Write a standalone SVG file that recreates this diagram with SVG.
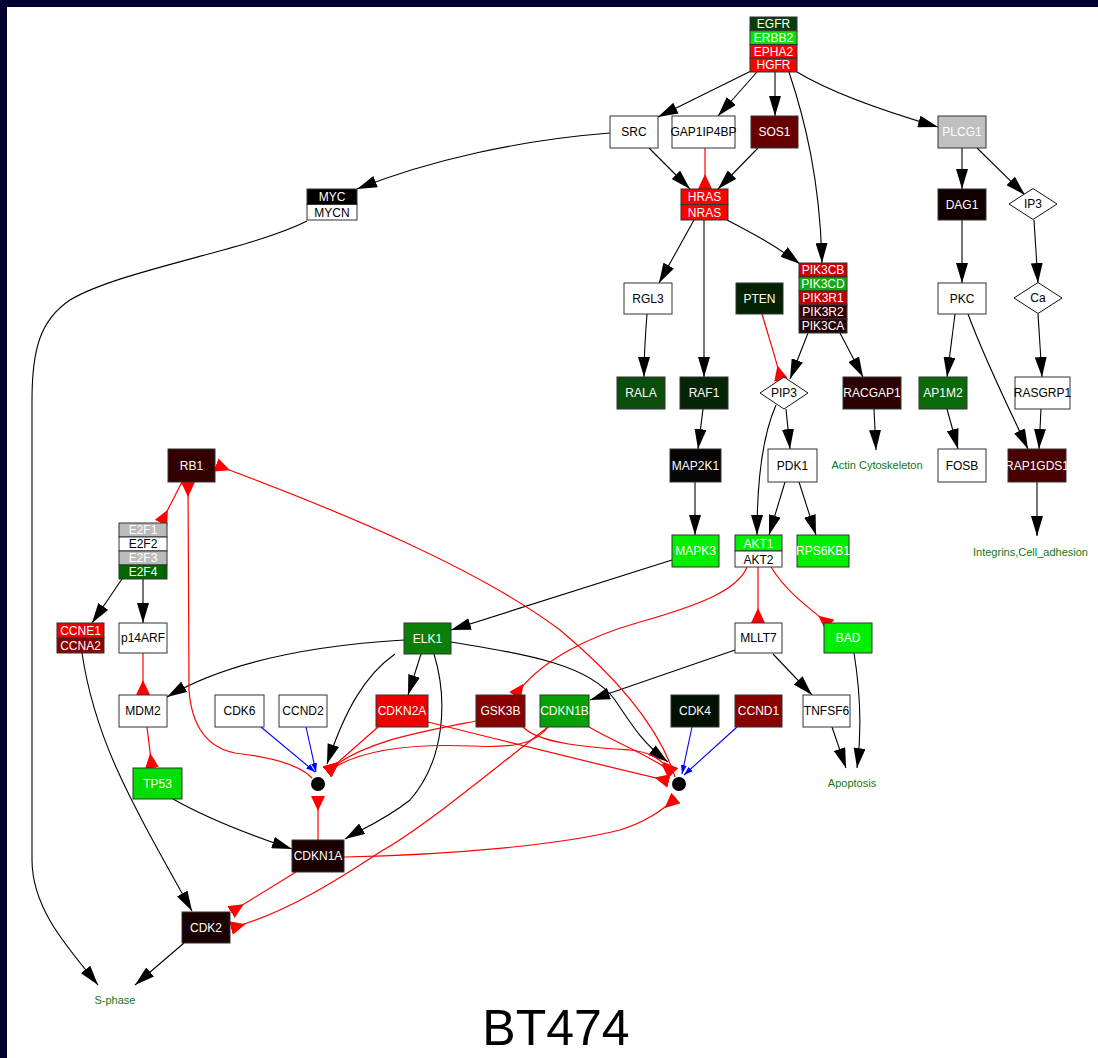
<svg xmlns="http://www.w3.org/2000/svg" width="1098" height="1058" viewBox="0 0 1098 1058">
<style>
text{font-family:"Liberation Sans",Arial,sans-serif;font-size:12px;text-anchor:middle}
.nd rect{stroke:#333;stroke-width:1}
.nd polygon{fill:#fff;stroke:#111;stroke-width:1}
.wt{fill:#fff}
.bt{fill:#000}
.lbl{fill:#117711;font-size:11px}
.e path{fill:none}
.k{stroke:#000;stroke-width:1.1;marker-end:url(#ak)}
.r{stroke:#ff0000;stroke-width:1.2;marker-end:url(#ar)}
.b{stroke:#0000ff;stroke-width:1.1;marker-end:url(#ab)}
</style>
<defs>
<marker id="ak" viewBox="0 0 20 12" markerWidth="20" markerHeight="12" refX="20" refY="6" orient="auto" markerUnits="userSpaceOnUse"><path d="M0,0 L20,6 L0,12 z" fill="#000"/></marker>
<marker id="ar" viewBox="0 0 15 14" markerWidth="15" markerHeight="14" refX="15" refY="7" orient="auto" markerUnits="userSpaceOnUse"><path d="M15,0 L15,14 L0,7 z" fill="#ff0000"/></marker>
<marker id="ab" viewBox="0 0 9 6" markerWidth="9" markerHeight="6" refX="9" refY="3" orient="auto" markerUnits="userSpaceOnUse"><path d="M0,0 L9,3 L0,6 z" fill="#0000ff"/></marker>
</defs>
<rect x="0" y="0" width="1098" height="1058" fill="#000033"/>
<rect x="7" y="7" width="1091" height="1051" fill="#ffffff"/>

<g id="edges" class="e">
<path class="k" d="M751,71 L658,117"/>
<path class="k" d="M757,72 L718,116"/>
<path class="k" d="M775,72 L775,116"/>
<path class="k" d="M789,72 C805,120 820,180 822,263"/>
<path class="k" d="M797,72 C830,92 880,110 938,127"/>
<path class="k" d="M610,133 C520,140 430,160 357,189"/>
<path class="k" d="M649,148 L690,189"/>
<path class="r" d="M705,148 L705,189"/>
<path class="k" d="M758,148 L718,189"/>
<path class="k" d="M694,220 L659,283"/>
<path class="k" d="M704,220 L704,377"/>
<path class="k" d="M727,220 C750,232 775,245 800,264"/>
<path class="k" d="M962,148 L962,189"/>
<path class="k" d="M977,148 L1025,195"/>
<path class="k" d="M962,220 L962,283"/>
<path class="k" d="M1034,220 L1038,283"/>
<path class="k" d="M647,314 C645,340 644,355 644,377"/>
<path class="r" d="M762,314 C768,335 775,355 781,380"/>
<path class="k" d="M808,333 L790,379"/>
<path class="k" d="M840,333 L863,377"/>
<path class="k" d="M955,314 L947,377"/>
<path class="k" d="M968,314 C985,360 1005,400 1028,449"/>
<path class="k" d="M1038,314 L1042,377"/>
<path class="k" d="M874,409 L876,450"/>
<path class="k" d="M947,409 L958,449"/>
<path class="k" d="M1041,409 L1039,449"/>
<path class="k" d="M1037,482 L1037,536"/>
<path class="k" d="M703,409 L698,449"/>
<path class="k" d="M695,482 L695,535"/>
<path class="k" d="M786,409 L790,449"/>
<path class="k" d="M776,405 C765,430 757,470 757,535"/>
<path class="k" d="M785,482 L769,535"/>
<path class="k" d="M799,482 L816,535"/>
<path class="k" d="M307,221 C250,250 120,270 70,300 C40,320 32,350 32,400 L32,860 C32,910 70,950 98,985"/>
<path class="r" d="M182,482 L161,523"/>
<path class="k" d="M122,579 L92,623"/>
<path class="k" d="M143,579 L143,623"/>
<path class="r" d="M143,653 L143,695"/>
<path class="r" d="M147,727 L152,768"/>
<path class="k" d="M82,653 C95,740 130,800 192,911"/>
<path class="k" d="M184,943 L135,985"/>
<path class="k" d="M173,799 C210,820 250,835 292,849"/>
<path class="k" d="M672,560 L451,630"/>
<path class="k" d="M404,640 C320,645 230,660 167,697"/>
<path class="k" d="M421,654 L408,695"/>
<path class="k" d="M395,654 C365,675 345,710 327,764"/>
<path class="k" d="M434,654 C448,700 445,760 410,800 C385,820 360,830 345,839"/>
<path class="k" d="M451,642 C530,655 590,665 615,700 C635,730 645,745 668,762"/>
<path class="k" d="M735,650 L590,700"/>
<path class="k" d="M773,654 L812,695"/>
<path class="k" d="M854,653 C860,690 862,730 857,768"/>
<path class="k" d="M832,727 L846,768"/>
<path class="r" d="M758,567 L758,623"/>
<path class="r" d="M771,567 C785,590 805,605 830,625"/>
<path class="r" d="M747,567 C738,590 700,605 640,622 C590,636 540,660 515,696"/>
<path class="r" d="M675,777 C660,730 620,680 560,630 C480,570 350,515 216,465"/>
<path class="r" d="M312,778 C300,765 270,757 235,753 C210,748 192,730 189,690 L188,482"/>
<path class="r" d="M318,840 L318,796"/>
<path class="r" d="M296,872 L231,912"/>
<path class="r" d="M344,857 C450,855 560,845 620,830 C645,822 660,812 676,798"/>
<path class="r" d="M548,727 C480,780 420,830 380,852 C330,885 280,915 231,928"/>
<path class="r" d="M378,727 L327,772"/>
<path class="r" d="M476,721 C420,732 360,742 327,772"/>
<path class="r" d="M548,727 C535,745 510,748 470,746 C420,744 360,748 327,772"/>
<path class="r" d="M428,722 C500,740 600,765 669,781"/>
<path class="r" d="M523,727 C540,745 600,748 630,750 C650,752 660,758 673,773"/>
<path class="r" d="M589,727 C620,745 650,755 673,773"/>
<path class="b" d="M261,727 L315,772"/>
<path class="b" d="M306,727 L316,772"/>
<path class="b" d="M692,727 L682,774"/>
<path class="b" d="M737,727 L684,775"/>
</g>

<g id="n-EGFR" class="nd">
<rect x="750" y="17" width="47" height="13.75" fill="#0b3d0b"/>
<rect x="750" y="30.75" width="47" height="13.75" fill="#11dd11"/>
<rect x="750" y="44.5" width="47" height="13.75" fill="#ff0000"/>
<rect x="750" y="58.25" width="47" height="13.75" fill="#ff0000"/>
<text class="wt" x="773.5" y="28">EGFR</text>
<text class="wt" x="773.5" y="41.8">ERBB2</text>
<text class="wt" x="773.5" y="55.5">EPHA2</text>
<text class="wt" x="773.5" y="69.3">HGFR</text>
</g>
<g id="n-SRC" class="nd"><rect x="610" y="116" width="48" height="32" fill="#fff"/><text class="bt" x="634" y="136">SRC</text></g>
<g id="n-GAP1IP4BP" class="nd"><rect x="672" y="116" width="63" height="32" fill="#fff"/><text class="bt" x="703.5" y="136">GAP1IP4BP</text></g>
<g id="n-SOS1" class="nd"><rect x="751" y="116" width="47" height="32" fill="#660000"/><text class="wt" x="774.5" y="136">SOS1</text></g>
<g id="n-PLCG1" class="nd"><rect x="938" y="116" width="48" height="32" fill="#c0c0c0"/><text class="wt" x="962" y="136">PLCG1</text></g>
<g id="n-MYC" class="nd">
<rect x="307" y="189" width="50" height="15.5" fill="#000"/>
<rect x="307" y="204.5" width="50" height="15.5" fill="#fff"/>
<text class="wt" x="332" y="201">MYC</text>
<text class="bt" x="332" y="216.5">MYCN</text>
</g>
<g id="n-HRAS" class="nd">
<rect x="681" y="189" width="47" height="15.5" fill="#ff0000"/>
<rect x="681" y="204.5" width="47" height="15.5" fill="#ff0000"/>
<text class="wt" x="704.5" y="201">HRAS</text>
<text class="wt" x="704.5" y="216.5">NRAS</text>
</g>
<g id="n-DAG1" class="nd"><rect x="938" y="189" width="48" height="31" fill="#110000"/><text class="wt" x="962" y="208.5">DAG1</text></g>
<g id="n-IP3" class="nd"><polygon points="1009,204 1033,188.5 1057,204 1033,219.5"/><text class="bt" x="1033" y="208">IP3</text></g>
<g id="n-RGL3" class="nd"><rect x="624" y="283" width="48" height="31" fill="#fff"/><text class="bt" x="648" y="302.5">RGL3</text></g>
<g id="n-PTEN" class="nd"><rect x="736" y="283" width="47" height="31" fill="#022202"/><text class="wt" x="759.5" y="302.5">PTEN</text></g>
<g id="n-PIK3" class="nd">
<rect x="799" y="263" width="48" height="14" fill="#cc0000"/>
<rect x="799" y="277" width="48" height="14" fill="#11aa11"/>
<rect x="799" y="291" width="48" height="14" fill="#bb0000"/>
<rect x="799" y="305" width="48" height="14" fill="#330000"/>
<rect x="799" y="319" width="48" height="14" fill="#220000"/>
<text class="wt" x="823" y="274">PIK3CB</text>
<text class="wt" x="823" y="288">PIK3CD</text>
<text class="wt" x="823" y="302">PIK3R1</text>
<text class="wt" x="823" y="316">PIK3R2</text>
<text class="wt" x="823" y="330">PIK3CA</text>
</g>
<g id="n-PKC" class="nd"><rect x="938" y="283" width="48" height="31" fill="#fff"/><text class="bt" x="962" y="302.5">PKC</text></g>
<g id="n-Ca" class="nd"><polygon points="1014,298 1038,282.5 1062,298 1038,313.5"/><text class="bt" x="1038" y="302">Ca</text></g>
<g id="n-RALA" class="nd"><rect x="617" y="377" width="48" height="32" fill="#0b4d0b"/><text class="wt" x="641" y="397">RALA</text></g>
<g id="n-RAF1" class="nd"><rect x="680" y="377" width="48" height="32" fill="#062406"/><text class="wt" x="704" y="397">RAF1</text></g>
<g id="n-PIP3" class="nd"><polygon points="760,393 784,377 808,393 784,409"/><text class="bt" x="784" y="397">PIP3</text></g>
<g id="n-RACGAP1" class="nd"><rect x="843" y="377" width="58" height="32" fill="#2a0000"/><text class="wt" x="872" y="397">RACGAP1</text></g>
<g id="n-AP1M2" class="nd"><rect x="919" y="377" width="48" height="32" fill="#0a6a0a"/><text class="wt" x="943" y="397">AP1M2</text></g>
<g id="n-RASGRP1" class="nd"><rect x="1015" y="377" width="55" height="32" fill="#fff"/><text class="bt" x="1042.5" y="397">RASGRP1</text></g>
<g id="n-MAP2K1" class="nd"><rect x="670" y="449" width="51" height="33" fill="#050505"/><text class="wt" x="695.5" y="469.5">MAP2K1</text></g>
<g id="n-PDK1" class="nd"><rect x="768" y="449" width="49" height="33" fill="#fff"/><text class="bt" x="792.5" y="469.5">PDK1</text></g>
<g id="n-FOSB" class="nd"><rect x="938" y="449" width="48" height="33" fill="#fff"/><text class="bt" x="962" y="469.5">FOSB</text></g>
<g id="n-RAP1GDS1" class="nd"><rect x="1008" y="449" width="58" height="33" fill="#4a0000"/><text class="wt" x="1037" y="469.5">RAP1GDS1</text></g>
<g id="n-RB1" class="nd"><rect x="168" y="449" width="47" height="33" fill="#330000"/><text class="wt" x="191.5" y="469.5">RB1</text></g>
<g id="n-E2F" class="nd">
<rect x="119" y="523" width="48" height="14" fill="#bbbbbb"/>
<rect x="119" y="537" width="48" height="14" fill="#fff"/>
<rect x="119" y="551" width="48" height="14" fill="#bbbbbb"/>
<rect x="119" y="565" width="48" height="14" fill="#006600"/>
<text class="wt" x="143" y="534">E2F1</text>
<text class="bt" x="143" y="548">E2F2</text>
<text class="wt" x="143" y="562">E2F3</text>
<text class="wt" x="143" y="576">E2F4</text>
</g>
<g id="n-MAPK3" class="nd"><rect x="672" y="535" width="47" height="32" fill="#00ee00"/><text class="wt" x="695.5" y="555">MAPK3</text></g>
<g id="n-AKT" class="nd">
<rect x="735" y="535" width="47" height="16" fill="#00ee00"/>
<rect x="735" y="551" width="47" height="16" fill="#fff"/>
<text class="wt" x="758.5" y="547.5">AKT1</text>
<text class="bt" x="758.5" y="563.5">AKT2</text>
</g>
<g id="n-RPS6KB1" class="nd"><rect x="797" y="535" width="52" height="32" fill="#00ee00"/><text class="wt" x="823" y="555">RPS6KB1</text></g>
<g id="n-CCNE1" class="nd">
<rect x="57" y="623" width="47" height="15" fill="#ee0000"/>
<rect x="57" y="638" width="47" height="15" fill="#880000"/>
<text class="wt" x="80.5" y="634.5">CCNE1</text>
<text class="wt" x="80.5" y="649.5">CCNA2</text>
</g>
<g id="n-p14ARF" class="nd"><rect x="119" y="623" width="48" height="30" fill="#fff"/><text class="bt" x="143" y="642">p14ARF</text></g>
<g id="n-ELK1" class="nd"><rect x="404" y="623" width="47" height="31" fill="#0a800a"/><text class="wt" x="427.5" y="642.5">ELK1</text></g>
<g id="n-MLLT7" class="nd"><rect x="735" y="623" width="47" height="30" fill="#fff"/><text class="bt" x="758.5" y="642">MLLT7</text></g>
<g id="n-BAD" class="nd"><rect x="824" y="623" width="48" height="30" fill="#00ee00"/><text class="wt" x="848" y="642">BAD</text></g>
<g id="n-MDM2" class="nd"><rect x="119" y="695" width="48" height="32" fill="#fff"/><text class="bt" x="143" y="715">MDM2</text></g>
<g id="n-CDK6" class="nd"><rect x="215" y="695" width="49" height="32" fill="#fff"/><text class="bt" x="239.5" y="715">CDK6</text></g>
<g id="n-CCND2" class="nd"><rect x="279" y="695" width="48" height="32" fill="#fff"/><text class="bt" x="303" y="715">CCND2</text></g>
<g id="n-CDKN2A" class="nd"><rect x="376" y="695" width="52" height="32" fill="#ee0000"/><text class="wt" x="402" y="715">CDKN2A</text></g>
<g id="n-GSK3B" class="nd"><rect x="476" y="695" width="49" height="32" fill="#880000"/><text class="wt" x="500.5" y="715">GSK3B</text></g>
<g id="n-CDKN1B" class="nd"><rect x="540" y="695" width="49" height="32" fill="#05a005"/><text class="wt" x="564.5" y="715">CDKN1B</text></g>
<g id="n-CDK4" class="nd"><rect x="671" y="695" width="48" height="32" fill="#001100"/><text class="wt" x="695" y="715">CDK4</text></g>
<g id="n-CCND1" class="nd"><rect x="735" y="695" width="47" height="32" fill="#880000"/><text class="wt" x="758.5" y="715">CCND1</text></g>
<g id="n-TNFSF6" class="nd"><rect x="803" y="695" width="47" height="32" fill="#fff"/><text class="bt" x="826.5" y="715">TNFSF6</text></g>
<g id="n-TP53" class="nd"><rect x="133" y="768" width="49" height="31" fill="#00dd00"/><text class="wt" x="157.5" y="787.5">TP53</text></g>
<g id="n-dot1"><circle cx="318" cy="784" r="7" fill="#000"/></g>
<g id="n-dot2"><circle cx="679" cy="784" r="7" fill="#000"/></g>
<g id="n-CDKN1A" class="nd"><rect x="292" y="840" width="52" height="32" fill="#1a0000"/><text class="wt" x="318" y="860">CDKN1A</text></g>
<g id="n-CDK2" class="nd"><rect x="182" y="912" width="48" height="31" fill="#1a0000"/><text class="wt" x="206" y="931.5">CDK2</text></g>
<g id="n-Sphase"><text class="lbl" x="115" y="1004">S-phase</text></g>
<g id="n-Apoptosis"><text class="lbl" x="852" y="787">Apoptosis</text></g>
<g id="n-Actin"><text class="lbl" x="877" y="469">Actin Cytoskeleton</text></g>
<g id="n-Integrins"><text class="lbl" x="973" y="556" style="text-anchor:start">Integrins,Cell_adhesion</text></g>
<text x="556" y="1045" style="font-size:50px;fill:#000">BT474</text>
</svg>
